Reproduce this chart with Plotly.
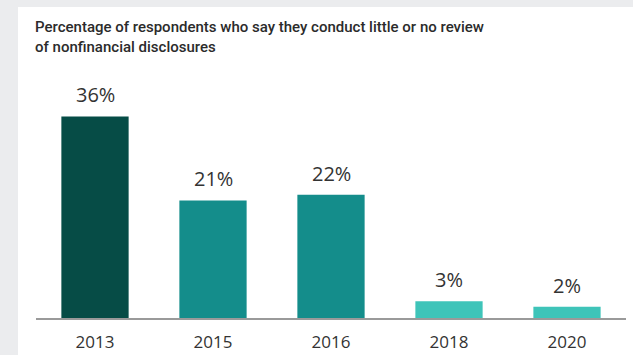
import plotly.graph_objects as go

# Survey years and the share of respondents reporting little or no review
years = ["2013", "2015", "2016", "2018", "2020"]
shares = [36, 21, 22, 3, 2]
bar_colors = ["#064c46", "#148d8b", "#148d8b", "#3ec4b9", "#3ec4b9"]
value_labels = [f"{v}%" for v in shares]

title_text = ("Percentage of respondents who say they conduct little or no review<br>"
              "of nonfinancial disclosures")

W, H = 633, 355
M_L, M_R, M_T, M_B = 36, 7, 94, 37
plot_w = W - M_L - M_R
plot_h = H - M_T - M_B
PAGE_GREY = "#ebecee"


def px_x(x):
    return (x - M_L) / plot_w


def px_y(y):
    return (H - M_B - y) / plot_h


fig = go.Figure(
    go.Bar(
        x=years,
        y=shares,
        marker=dict(color=bar_colors, line=dict(width=0)),
        hoverinfo="skip",
    )
)

# value labels above each bar (category axis positions are indices)
for i, (v, lab) in enumerate(zip(shares, value_labels)):
    fig.add_annotation(
        x=i, y=v, text=lab, showarrow=False,
        yanchor="bottom", yshift=6,
        font=dict(family="Open Sans", size=20, color="#333333"),
    )

# grey page edges around the white card (top strip and left strip)
fig.add_shape(
    type="rect", xref="paper", yref="paper", layer="below",
    x0=px_x(-5), x1=px_x(W + 5), y0=px_y(7), y1=px_y(-5),
    fillcolor=PAGE_GREY, line=dict(width=0),
)
fig.add_shape(
    type="rect", xref="paper", yref="paper", layer="below",
    x0=px_x(-5), x1=px_x(18), y0=px_y(-5), y1=px_y(H + 10),
    fillcolor=PAGE_GREY, line=dict(width=0),
)

fig.add_annotation(
    xref="paper", yref="paper", x=px_x(33), y=px_y(16),
    xanchor="left", yanchor="top", align="left", showarrow=False,
    text=title_text,
    font=dict(family="Roboto", size=15, color="#2b2b2b", weight=500),
)

fig.update_layout(
    width=W, height=H,
    margin=dict(l=M_L, r=M_R, t=M_T, b=M_B, autoexpand=False),
    paper_bgcolor="white",
    plot_bgcolor="rgba(0,0,0,0)",
    bargap=0.43,
    showlegend=False,
    xaxis=dict(
        type="category", automargin=False,
        showline=True, linecolor="#9a9a9a", linewidth=2,
        showgrid=False, ticks="", ticklabelstandoff=8,
        tickfont=dict(family="Open Sans", size=17, color="#333333"),
    ),
    yaxis=dict(range=[0, 40], visible=False, showgrid=False, zeroline=False,
               automargin=False),
)

fig.write_html("out.html")
